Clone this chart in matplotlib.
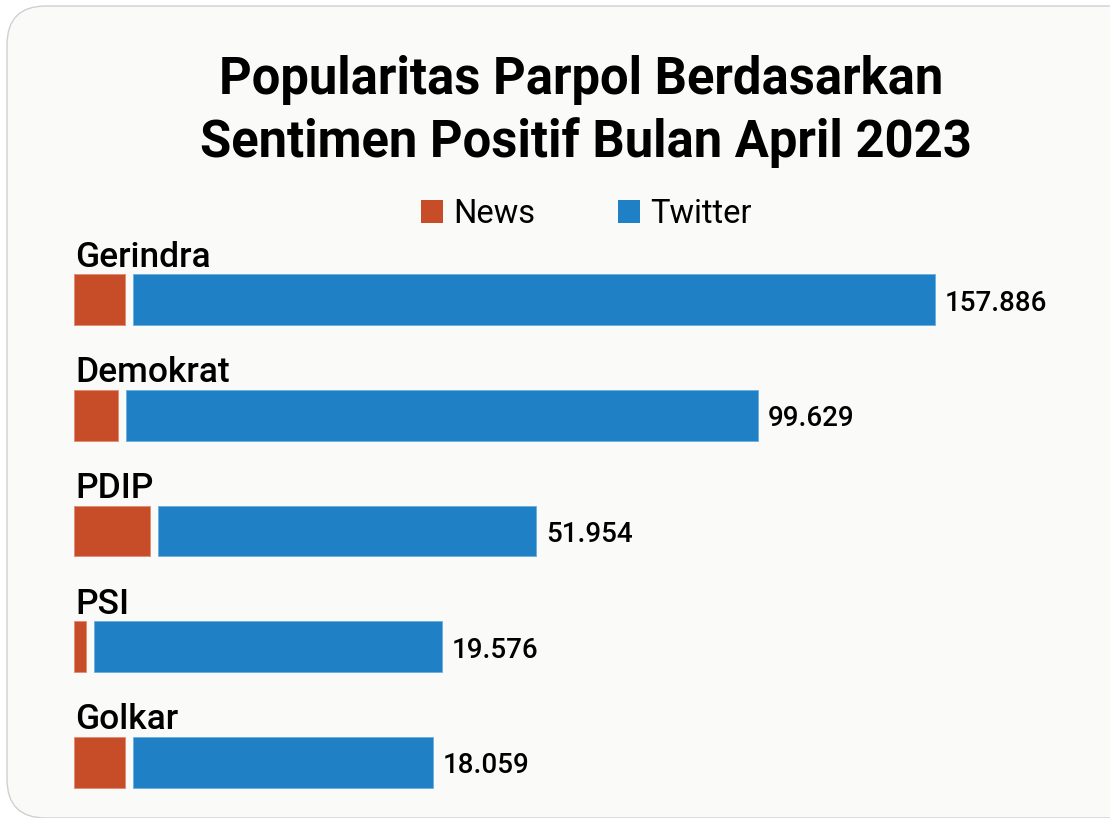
import matplotlib.pyplot as plt
from matplotlib.patches import FancyBboxPatch, Rectangle

# bar lengths as drawn (chart units), and the printed labels
parties = ['Gerindra', 'Demokrat', 'PDIP', 'PSI', 'Golkar']
news = [51, 44, 76, 12, 51]
twitter = [802, 632, 378, 348, 300]
labels = ['157.886', '99.629', '51.954', '19.576', '18.059']

NEWS_COL = '#C74D29'
TWIT_COL = '#1F80C5'
BG = '#FAFAF8'
W, H = 1110, 818
GAP = 8


def fx(px):
  return px / W


def fy(py):
  return 1 - py / H


plt.rcParams['font.family'] = ['Roboto', 'DejaVu Sans']

fig = plt.figure(figsize=(W / 100, H / 100), dpi=100, facecolor='white')

# card background
card = FancyBboxPatch((fx(7), 0), 1.2, fy(6), boxstyle='round,pad=0,rounding_size=0.035',
                      transform=fig.transFigure, facecolor=BG, edgecolor='#d0d0d0', lw=1.0,
                      mutation_aspect=W / H, zorder=-5)
fig.patches.append(card)

# axes in pixel-like units: x=0 at bar start, rows spaced 115.7 px
ax = fig.add_axes([0, 0, 1, 1], zorder=2)
ax.set_facecolor('none')
row = 115.7
top = 299.6
ax.set_xlim(-74, W - 74)
ax.set_ylim((H - top) / row, -top / row)
ax.axis('off')

ypos = list(range(len(parties)))
lefts_tw = [n + GAP for n in news]
ax.barh(ypos, news, height=0.44, color=NEWS_COL, edgecolor='#e08a70', lw=0.6)
ax.barh(ypos, twitter, left=lefts_tw, height=0.44, color=TWIT_COL, edgecolor='#6aaee0', lw=0.6)

for i, p in enumerate(parties):
  ax.text(1, i - 0.285, p, fontsize=25.5, fontweight='medium', ha='left', va='baseline', color='black')
  end = news[i] + GAP + twitter[i]
  ax.text(end + 10, i + 0.03, labels[i], fontsize=20, fontweight='medium', ha='left', va='center', color='black')

# title
fig.text(fx(581), fy(94), 'Popularitas Parpol Berdasarkan', fontsize=36.5, fontweight='bold',
         ha='center', va='baseline')
fig.text(fx(586), fy(157), 'Sentimen Positif Bulan April 2023', fontsize=36.5, fontweight='bold',
         ha='center', va='baseline')

# legend
for x0, col, name in [(421, NEWS_COL, 'News'), (618, TWIT_COL, 'Twitter')]:
  fig.patches.append(Rectangle((fx(x0), fy(223)), 22 / W, 23 / H, transform=fig.transFigure,
                               facecolor=col, edgecolor='none'))
  fig.text(fx(x0 + 32), fy(223), name, fontsize=23.5, ha='left', va='baseline')

fig.savefig('out.png', dpi=100, facecolor='white')
